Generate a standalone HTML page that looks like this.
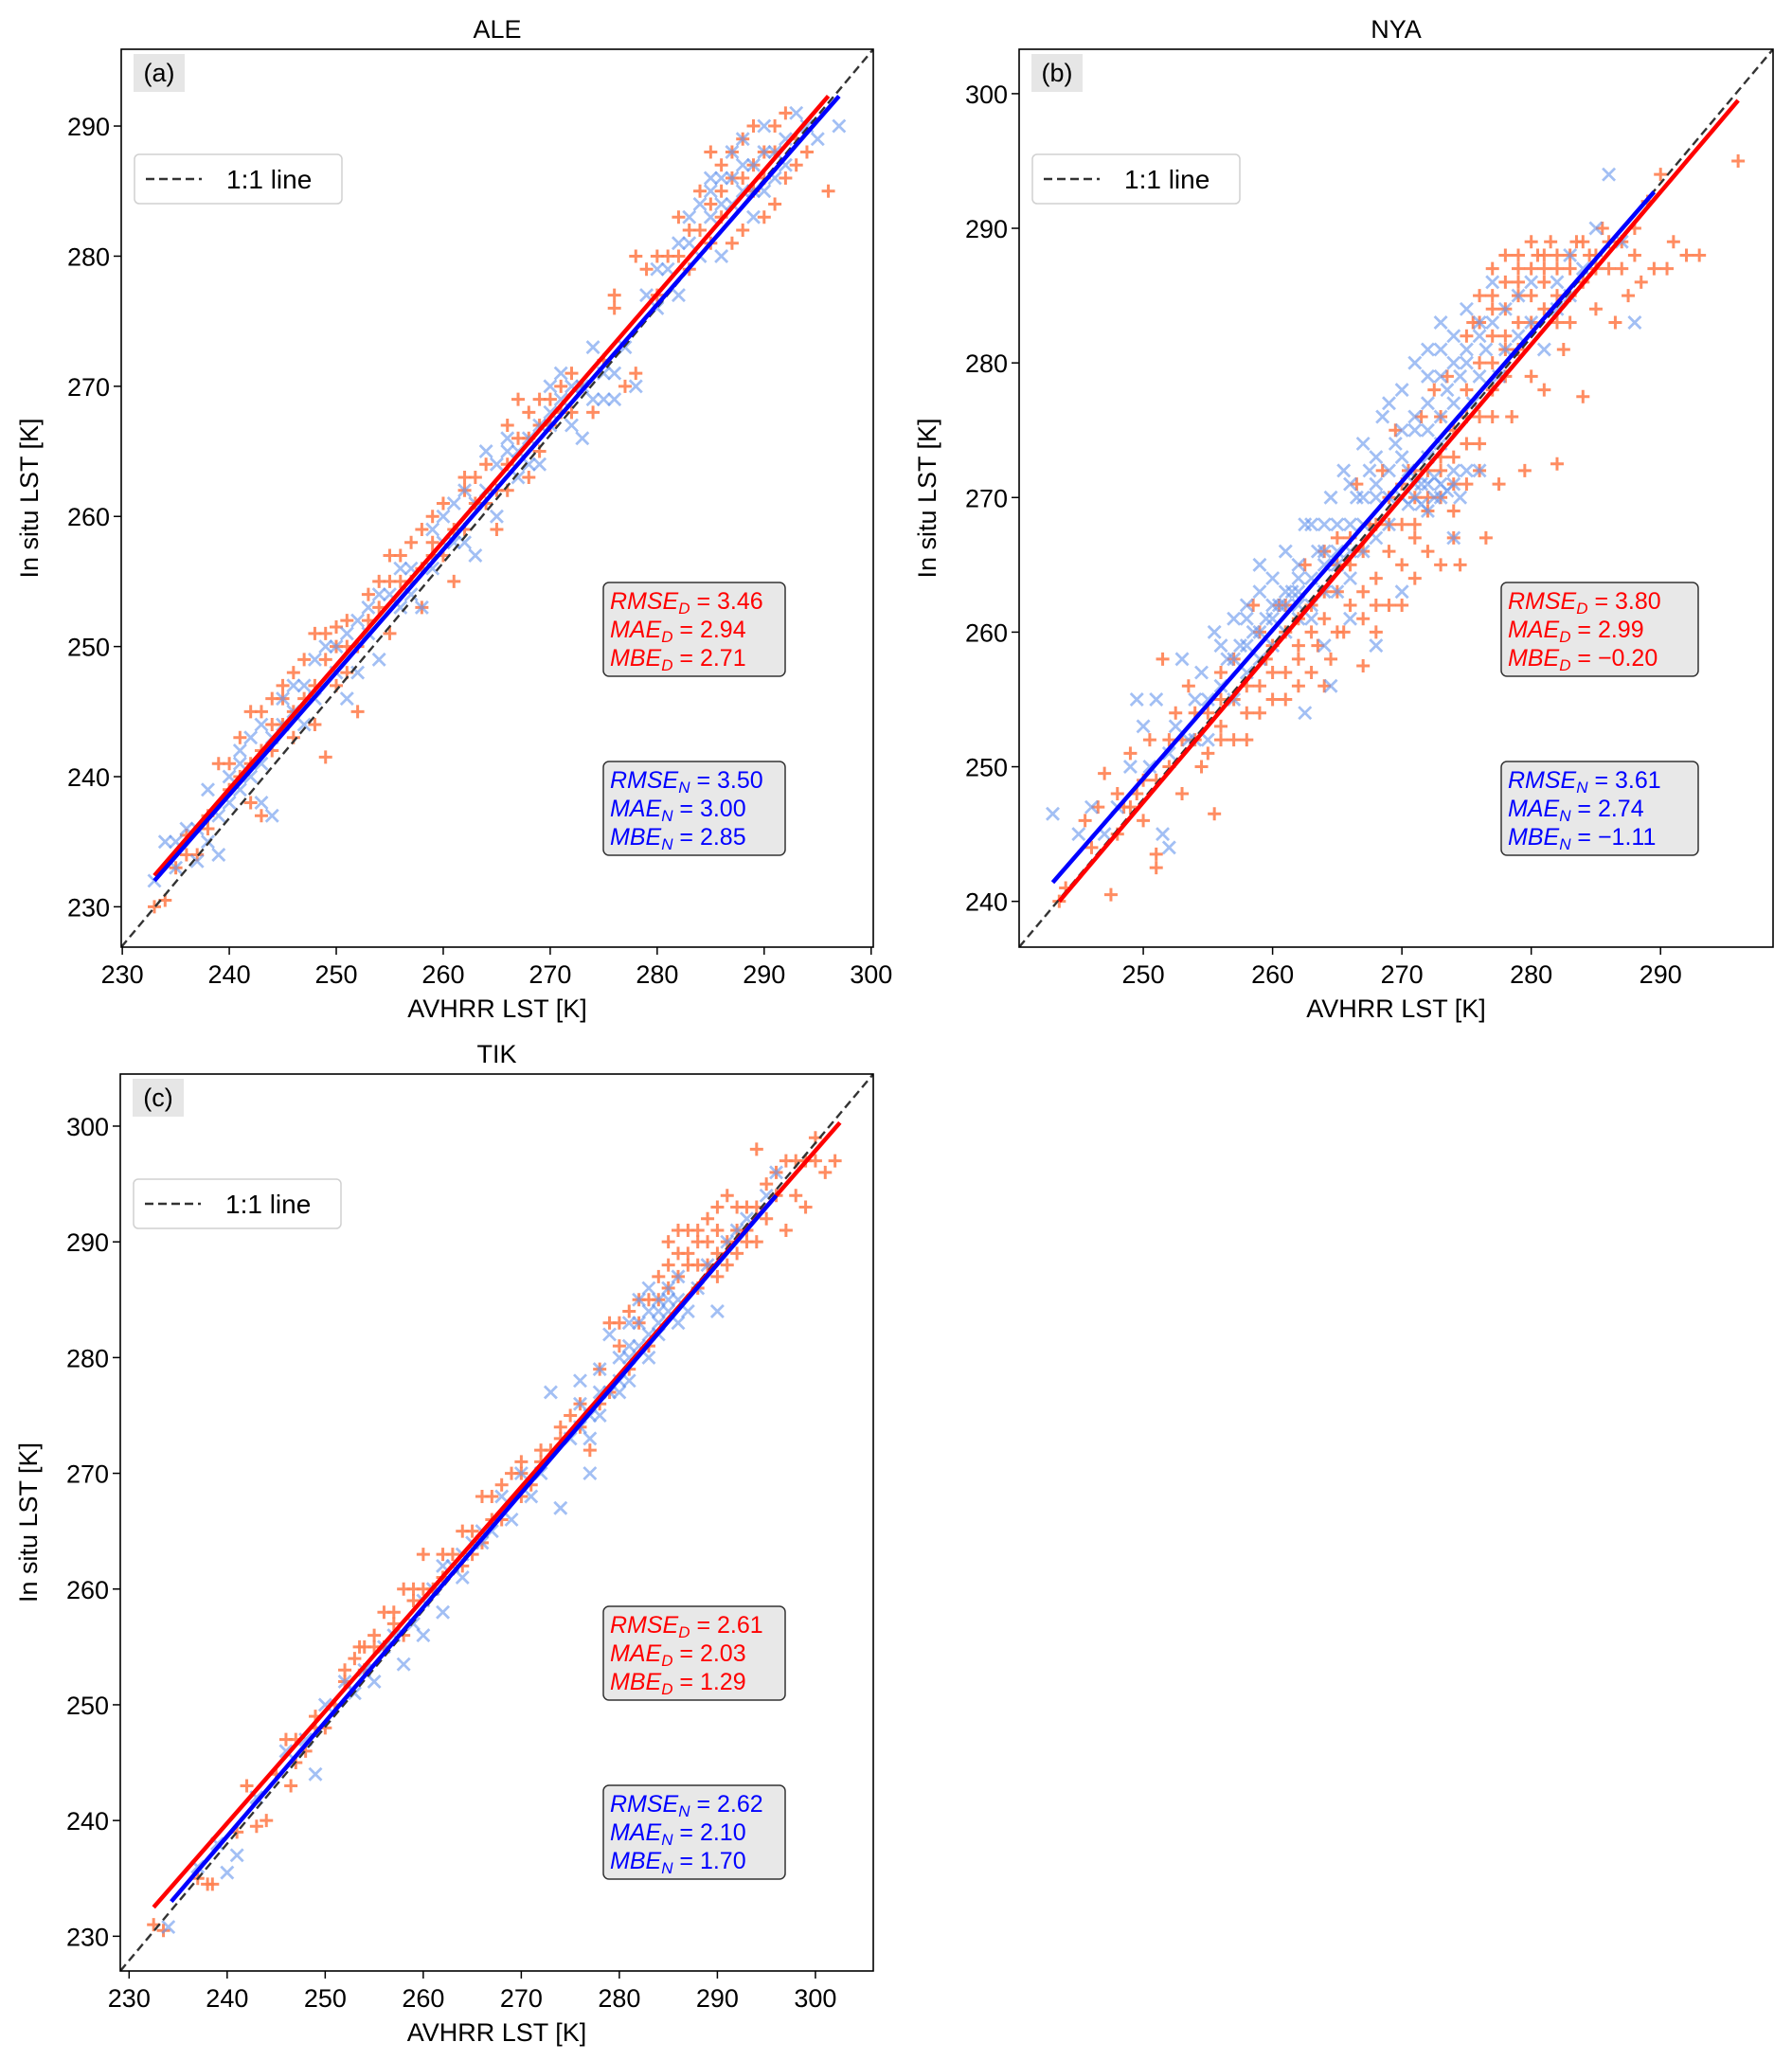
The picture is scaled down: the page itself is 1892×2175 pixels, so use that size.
<!DOCTYPE html>
<html><head><meta charset="utf-8"><style>
body{margin:0;background:#fff}
svg{display:block;font-family:"Liberation Sans","DejaVu Sans",sans-serif}
</style></head><body>
<svg id="fig" width="1892" height="2175" viewBox="0 0 1892 2175" xmlns="http://www.w3.org/2000/svg"></svg>
<script>
// ---- data ----
const aleDay=[[233,230],[234,230.5],[235,233],[236,235.5],[237,234],[238,236],[239,241],[240,239],[241,240],[241,243],[242,245],[242,238],[243,245],[243,237],[244,242],[244,246],[245,244],[246,248],[246,243],[247,246],[248,244],[248,251],[249,249],[249,241.5],[250,250],[251,252],[251,248],[252,250],[252,245],[253,254],[254,253],[255,255],[255,251],[256,257],[257,255],[258,259],[258,253],[259,258],[260,257],[260,261],[261,255],[262,262],[262,259],[263,261],[264,264],[265,262],[265,259],[266,264],[267,266],[268,268],[268,263],[269,267],[270,269],[271,270],[272,271],[273,270],[274,268],[275,272],[276,276],[277,270],[278,271],[279,279],[280,277],[281,280],[282,280],[283,279],[284,282],[285,284],[286,285],[287,288],[287,281],[288,286],[289,287],[290,288],[290,283],[291,284],[292,291],[293,287],[294,288],[296,285],[245,246],[247,249],[250,247],[256,255],[259,257],[263,263],[266,267],[269,269],[271,268],[283,282],[286,283],[289,290],[291,288],[236,234],[238,237],[240,241],[242,241],[243,242],[244,244],[245,247],[246,245],[248,247],[249,251],[250,251.5],[251,250],[253,252],[254,255],[255,257],[257,258],[258,256],[259,260],[261,259],[262,263],[264,261],[266,262],[267,269],[268,266],[269,265],[270,267],[272,268],[276,277],[278,280],[280,280],[282,283],[284,285],[285,288],[286,287],[287,286],[288,289],[289,285],[290,286],[291,290],[292,286],[293,289],[288,282],[285,281]];
const aleNight=[[233,232],[234,235],[235,233],[236,236],[237,233.5],[238,239],[239,234],[239,237],[240,240],[241,242],[241,239],[242,240],[243,238],[243,244],[244,243],[244,237],[245,246],[246,245],[247,244],[247,247],[248,246],[249,250],[250,248],[251,246],[252,252],[252,248],[253,251],[254,249],[255,254],[256,253],[257,256],[258,253],[259,256],[260,260],[261,258],[262,258],[262,262],[263,257],[264,262],[265,264],[265,260],[266,265],[267,263],[268,266],[268,264],[269,267],[270,270],[271,271],[272,267],[273,266],[274,273],[275,271],[276,269],[277,273],[278,270],[279,277],[280,276],[281,279],[282,277],[283,281],[284,280],[285,283],[286,284],[286,280],[287,286],[288,285],[288,289],[289,283],[290,288],[291,286],[292,287],[293,291],[294,290],[295,289],[297,290],[270,267],[272,270],[285,286],[287,284],[289,287],[235,235],[237,236],[238,235],[240,238],[241,241],[242,243],[243,241],[245,244],[246,247],[248,249],[250,250],[251,251],[253,253],[254,254],[256,256],[257,254],[259,259],[260,258],[261,261],[263,261],[264,265],[266,266],[267,265],[269,264],[270,268],[271,269],[273,270],[274,269],[275,269],[276,271],[280,279],[282,281],[283,283],[284,284],[285,285],[286,286],[287,288],[288,287],[290,290],[291,288],[292,289],[289,285],[290,285]];
const nyaDay=[[243.5,240],[244,241],[245.5,246],[246,244],[247,249.5],[247.5,240.5],[248,245],[248.5,247],[249,251],[249.5,248],[250,246],[250.5,252],[251,243.5],[251,242.5],[251.5,258],[252,250],[252.5,254],[253,248],[253.5,256],[254,252],[254.5,250],[255,254],[255.5,246.5],[256,257],[256,253],[257,255],[257,258],[258,252],[258,256],[258.5,262],[259,254],[259.5,258],[260,259],[260,255],[260.5,262],[261,257],[261,260],[262,258],[262,261],[262.5,265],[263,257],[263,262],[263.5,259],[264,266],[264,261],[264.5,258],[265,263],[265,267],[265.5,260],[266,262],[266,265],[266.5,271],[267,263],[267,257.5],[267.5,268],[268,260],[268,264],[268.5,272],[269,262],[269,266],[269.5,275],[270,262],[270,268],[270.5,272],[271,264],[271,270],[271.5,276],[272,266],[272,272],[272.5,278],[273,265],[273,270],[273.5,279],[274,269],[274,273],[274.5,265],[275,271],[275,278],[275.5,283],[276,272],[276,280],[276.5,267],[277,276],[277,284],[277.5,271],[278,281],[278,286],[278.5,276],[279,283],[279,288],[279.5,272],[280,285],[280,279],[280.5,288],[281,284],[281,278],[281.5,289],[282,285],[282,272.5],[282.5,281],[283,287],[283,283],[283.5,289],[284,286],[284,277.5],[284.5,288],[285,284],[285.5,290],[286,287],[286.5,283],[287,289],[287.5,285],[288,290],[288.5,286],[289,292],[289.5,287],[290,294],[290.5,287],[291,289],[292,288],[293,288],[296,295],[274,275],[276,276],[278,279],[273,276],[277,280],[279,285],[281,287],[275,282],[270,265],[268,262],[265,260],[262,256],[259,260],[256,252],[253,252],[250,249],[277,287],[279,286],[280,287],[278,284],[276,285],[282,288],[274,267],[272,269],[271,267],[267,261],[264,256],[261,255],[258,254],[246.5,247],[248,248],[249,247],[251,249],[252,252],[254,254],[255,251],[256,255],[257,252],[259,256],[260,257],[261,262],[262,259],[263,260],[264,263],[265,265],[266,267],[267,266],[268,268],[269,270],[270,271],[271,268],[272,270],[273,272],[274,271],[275,274],[276,274],[277,278],[278,282],[279,281],[280,283],[281,286],[282,283],[283,285],[284,289],[285,287],[286,289],[278,288],[280,289],[277,285],[276,283],[279,287],[281,288],[282,287],[283,288],[275,276],[273,273],[271,272],[269,268],[277,282],[285,288],[287,287],[288,288]];
const nyaNight=[[243,246.5],[245,245],[246,247],[247,245],[248,247],[249,250],[249.5,255],[250,253],[250.5,250],[251,255],[251.5,245],[252,251],[252,244],[252.5,253],[253,258],[253.5,252],[254,255],[254.5,257],[255,252],[255.5,260],[256,256],[256.5,258],[257,261],[257,255],[257.5,259],[258,262],[258,257],[258.5,260],[259,263],[259,258],[259.5,261],[260,264],[260,259],[260.5,262],[261,266],[261,260],[261.5,263],[262,265],[262,261],[262.5,268],[262.5,254],[263,264],[263,261],[263.5,266],[264,268],[264,263],[264.5,270],[264.5,256],[265,266],[265,263],[265.5,272],[266,268],[266,264],[266.5,270],[267,274],[267,266],[267.5,272],[268,270],[268,267],[268.5,276],[269,272],[269,268],[269.5,274],[270,278],[270,270],[270.5,272],[271,270],[271,280],[271.5,271],[272,269],[272,273],[272,281],[272.5,270],[273,276],[273,283],[273,270],[273.5,278],[274,282],[274,271],[274.5,279],[275,281],[275,284],[275.5,277],[276,283],[276.5,281],[277,286],[277.5,279],[278,284],[279,282],[280,286],[281,281],[282,284],[284,287],[285,290],[286,294],[288,283],[287,289],[283,288],[270,263],[268,259],[264,259],[262,262],[266,261],[274,267],[273,274],[276,279],[271,275],[269,277],[267,270],[265,268],[263,268],[261,262],[259,265],[272,271],[273,271],[271,271],[274,272],[273,281],[274,280],[272,279],[254,252],[255,255],[256,259],[258,259],[259,260],[260,261],[261,263],[262,263],[263,262],[264,265],[265,265],[266,266],[267,268],[268,271],[269,270],[270,273],[271,276],[272,277],[273,279],[274,277],[275,280],[276,282],[277,283],[278,281],[271.5,269.5],[272.5,271.5],[273.5,270.5],[270.5,269.5],[274.5,270],[275,272],[276,272],[272,275],[270,275],[268,273],[266,271],[264,266],[262,264],[260,262],[258,261],[257,258],[279,285],[280,283],[282,286],[283,285]];
const tikDay=[[232.5,231],[233.5,230.5],[237,235],[238,234.5],[238.5,234.5],[241,239],[242,243],[243,239.5],[244,240],[245,244],[246,247],[246.5,243],[247,245],[248,246],[249,249],[250,248],[251,250],[252,252],[253,254],[253.5,255],[254,253],[255,256],[256,255],[256,258],[257,258],[258,256],[258,260],[259,259],[260,263],[261,260],[262,261],[263,263],[264,262],[265,265],[266,264],[266,268],[267,268],[268,266],[269,270],[270,270],[270,268],[271,269],[272,271],[273,272],[274,273],[275,275],[276,274],[277,272],[278,276],[279,277],[279,283],[280,281],[281,279],[281,284],[282,283],[283,285],[283,281],[284,287],[285,286],[285,290],[286,289],[287,288],[287,291],[288,290],[288,286],[289,292],[289,288],[290,291],[290,287],[291,290],[291,294],[292,289],[292,293],[293,291],[294,293],[294,298],[294,290],[295,292],[296,296],[297,291],[297,297],[298,294],[299,293],[299,297],[300,297],[301,296],[302,297],[286,291],[288,288],[290,289],[293,290],[247,247],[249,248],[252,253],[254,255],[255,255],[257,257],[259,260],[260,260],[262,263],[264,265],[265,263],[267,266],[268,269],[270,271],[272,272],[274,274],[276,276],[278,279],[280,283],[282,285],[284,285],[285,288],[286,287],[287,289],[288,291],[289,290],[290,293],[291,288],[292,291],[293,293],[295,295],[296,294],[298,297],[300,299]];
const tikNight=[[234,230.8],[237,236],[239,238],[240,235.5],[241,237],[243,242],[246,246],[248,247],[249,244],[250,250],[252,252],[253,251],[254,253],[255,252],[256,255],[257,256],[258,253.5],[259,257],[260,259],[260,256],[261,260],[262,258],[263,262],[264,261],[265,264],[266,264],[267,265],[268,268],[269,266],[270,270],[271,268],[272,270],[273,277],[274,267],[275,273],[276,276],[276,278],[277,273],[277,270],[278,275],[278,279],[279,277],[279,282],[280,278],[281,280],[281,283],[282,281],[282,285],[283,280],[283,286],[284,283],[284,285],[285,284],[285,286],[286,285],[286,287],[287,284],[288,286],[289,288],[290,284],[291,290],[292,291],[293,292],[295,294],[296,296],[280,280],[281,278],[282,283],[283,282],[284,284],[285,285],[286,283],[276,274],[277,275],[278,277],[280,277],[281,281],[283,284],[284,282],[262,262],[264,263],[266,265]];
// regression line endpoints [x1,y1,x2,y2]
const aleFitDay=[233,232.4,296,292.3];
const aleFitNight=[233,232,297,292.3];
const nyaFitDay=[243.5,240,296,299.5];
const nyaFitNight=[243,241.4,289.5,292.7];
const tikFitDay=[232.5,232.5,302.5,300.3];
const tikFitNight=[234.3,233,296,294];
const aleXTicks=[230,240,250,260,270,280,290,300];
const aleYTicks=[230,240,250,260,270,280,290];
const nyaXTicks=[250,260,270,280,290];
const nyaYTicks=[240,250,260,270,280,290,300];
const tikXTicks=[230,240,250,260,270,280,290,300];
const tikYTicks=[230,240,250,260,270,280,290,300];
const aleStatsDay=["3.46","2.94","2.71"];
const aleStatsNight=["3.50","3.00","2.85"];
const nyaStatsDay=["3.80","2.99","\u22120.20"];
const nyaStatsNight=["3.61","2.74","\u22121.11"];
const tikStatsDay=["2.61","2.03","1.29"];
const tikStatsNight=["2.62","2.10","1.70"];

const NS="http://www.w3.org/2000/svg";
const fig=document.getElementById('fig');
function mk(tag,attrs,parent){const e=document.createElementNS(NS,tag);for(const k in attrs)e.setAttribute(k,attrs[k]);(parent||fig).appendChild(e);return e;}

function panel(o){
  const g=mk('g',{});
  
  
  const L=o.box[0],T=o.box[1],R=o.box[2],B=o.box[3];
  const sx=v=>L+(v-o.xd[0])/(o.xd[1]-o.xd[0])*(R-L);
  const sy=v=>B-(v-o.yd[0])/(o.yd[1]-o.yd[0])*(B-T);
  const cid='clip-'+o.id;
  const cp=mk('clipPath',{id:cid},g);mk('rect',{x:L,y:T,width:R-L,height:B-T},cp);
  const pg=mk('g',{'clip-path':'url(#'+cid+')'},g);
  const dg=mk('g',{stroke:'#ff7f50','stroke-width':3,'stroke-opacity':0.9},pg);
  
  
  o.day.forEach(p=>{const x=sx(p[0]),y=sy(p[1]);const e=mk('path',{d:`M${x-7} ${y}H${x+7}M${x} ${y-7}V${y+7}`},dg);
    
    });
  const ng=mk('g',{stroke:'#6495ed','stroke-width':2.8,'stroke-opacity':0.6},pg);
  
  
  o.night.forEach(p=>{const x=sx(p[0]),y=sy(p[1]);const e=mk('path',{d:`M${x-6.5} ${y-6.5}L${x+6.5} ${y+6.5}M${x-6.5} ${y+6.5}L${x+6.5} ${y-6.5}`},ng);
    
    });
  // 1:1 line drawn as the axes diagonal (as in the reference)
  const d1=mk('line',{x1:L,y1:B,x2:R,y2:T,stroke:'#333','stroke-width':2.4,'stroke-dasharray':'9,5'},pg);
  
  
  const fits=[[o.fitD,'#ff0000','day-fit-line'],[o.fitN,'#0000ff','night-fit-line']];
  fits.forEach(f=>{const l=mk('line',{x1:sx(f[0][0]),y1:sy(f[0][1]),x2:sx(f[0][2]),y2:sy(f[0][3]),stroke:f[1],'stroke-width':4.5},pg);
    
    });
  const fr=mk('rect',{x:L,y:T,width:R-L,height:B-T,fill:'none',stroke:'#000','stroke-width':1.6},g);
  
  
  o.xt.forEach(v=>{const x=sx(v);mk('line',{x1:x,y1:B,x2:x,y2:B+8,stroke:'#000','stroke-width':1.5},g);
    const t=mk('text',{x:x,y:B+38,'font-size':27,'text-anchor':'middle'},g);t.textContent=v;
    
    });
  o.yt.forEach(v=>{const y=sy(v);mk('line',{x1:L-8,y1:y,x2:L,y2:y,stroke:'#000','stroke-width':1.5},g);
    const t=mk('text',{x:L-12,y:y+10,'font-size':27,'text-anchor':'end'},g);t.textContent=v;
    
    });
  const xl=mk('text',{x:(L+R)/2,y:B+74,'font-size':27,'text-anchor':'middle'},g);xl.textContent='AVHRR LST [K]';
  
  
  const yx=L-88,yy=(T+B)/2;
  const yl=mk('text',{x:yx,y:yy,'font-size':27,'text-anchor':'middle',transform:`rotate(-90 ${yx} ${yy})`},g);yl.textContent='In situ LST [K]';
  
  
  const ti=mk('text',{x:(L+R)/2,y:T-12,'font-size':27,'text-anchor':'middle'},g);ti.textContent=o.title;
  
  
  const pb=mk('rect',{x:L+13,y:T+5,width:54,height:40,fill:'#e6e6e6'},g);
  
  
  const pl=mk('text',{x:L+40,y:T+34,'font-size':27,'text-anchor':'middle'},g);pl.textContent=o.letter;
  
  
  const lg=mk('g',{},g);
  
  
  mk('rect',{x:L+14,y:T+111,width:219,height:52,rx:5,fill:'#fff',stroke:'#d0d0d0','stroke-width':1.5},lg);
  mk('line',{x1:L+26,y1:T+137,x2:L+85,y2:T+137,stroke:'#333','stroke-width':2.4,'stroke-dasharray':'9,5'},lg);
  const lt=mk('text',{x:L+111,y:T+147,'font-size':28},lg);lt.textContent='1:1 line';
  
  
  [[o.sD,'#ff0000','D',o.statY[0],'day-stats-box'],[o.sN,'#0000ff','N',o.statY[1],'night-stats-box']].forEach(s=>{
    const sg=mk('g',{},g);
    
    
    const bx=o.statX;
    mk('rect',{x:bx,y:s[3],width:o.statW,height:99,rx:6,fill:'#e8e8e8',stroke:'#333','stroke-width':1.5},sg);
    ['RMSE','MAE','MBE'].forEach((n,i)=>{
      const t=mk('text',{x:bx+7,y:s[3]+28+i*30,'font-size':25,fill:s[1]},sg);
      const a=mk('tspan',{'font-style':'italic'},t);a.textContent=n;
      const b=mk('tspan',{'font-style':'italic','font-size':17,dy:5},t);b.textContent=s[2];
      const c=mk('tspan',{dy:-5},t);c.textContent=' = '+s[0][i];
    });
  });
}
panel({id:'ale',title:'ALE',letter:'(a)',box:[128,52,922,1000],xd:[229.9,300.2],yd:[226.9,295.9],day:aleDay,night:aleNight,fitD:aleFitDay,fitN:aleFitNight,xt:aleXTicks,yt:aleYTicks,sD:aleStatsDay,sN:aleStatsNight,statX:637,statW:192,statY:[615,804]});
panel({id:'nya',title:'NYA',letter:'(b)',box:[1076,52,1872,1000],xd:[240.4,298.7],yd:[236.6,303.3],day:nyaDay,night:nyaNight,fitD:nyaFitDay,fitN:nyaFitNight,xt:nyaXTicks,yt:nyaYTicks,sD:nyaStatsDay,sN:nyaStatsNight,statX:1585,statW:208,statY:[615,804]});
panel({id:'tik',title:'TIK',letter:'(c)',box:[127,1134,922,2081],xd:[229.1,305.9],yd:[227.0,304.5],day:tikDay,night:tikNight,fitD:tikFitDay,fitN:tikFitNight,xt:tikXTicks,yt:tikYTicks,sD:tikStatsDay,sN:tikStatsNight,statX:637,statW:192,statY:[1696,1885]});
</script>
</body></html>
